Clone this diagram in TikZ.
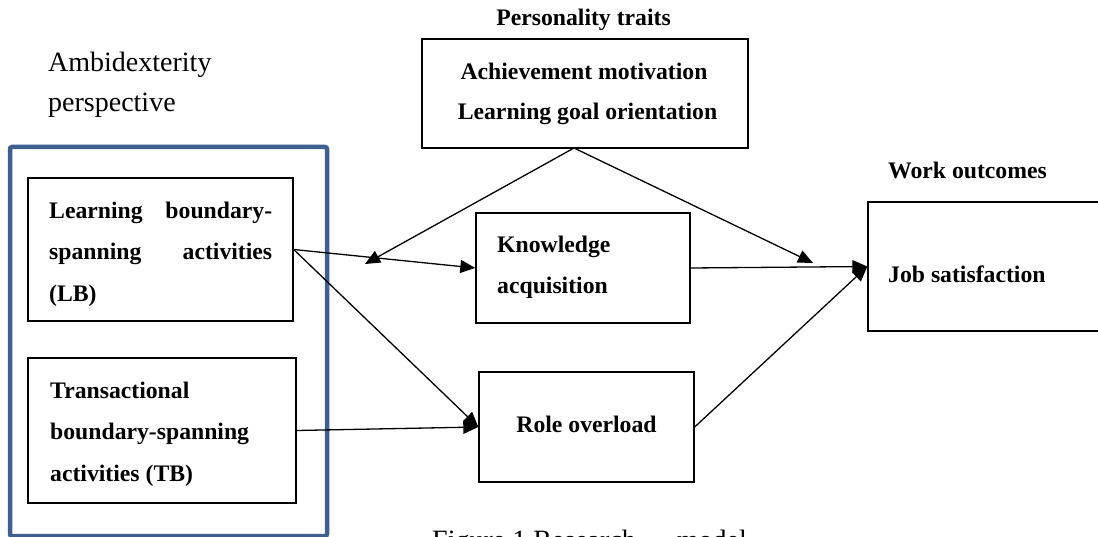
\documentclass[tikz,border=0pt]{standalone}
\usepackage{fontspec}
\setmainfont{Liberation Serif}
\usetikzlibrary{arrows.meta}
\definecolor{ambblue}{RGB}{62,96,145}
\tikzset{
  box/.style={draw, line width=1.4pt, inner sep=0pt},
  frame/.style={draw=ambblue, line width=4.5pt, rounded corners=2pt, inner sep=0pt},
  btext/.style={font=\fontsize{23.7}{41}\selectfont\bfseries, inner sep=0pt, anchor=base west},
  btextc/.style={btext, anchor=base},
  rtext/.style={font=\fontsize{28}{40}\selectfont, inner sep=0pt, anchor=base west},
  link/.style={line width=1.3pt, -{Triangle[length=15pt,width=13pt]}},
}
\begin{document}
\begin{tikzpicture}[x=1pt,y=-1pt]
\useasboundingbox (0,0) rectangle (1098,537);
% group frame
\node[frame, minimum width=317, minimum height=389] (amb) at (168.5,341.5) {};
% boxes
\node[box, minimum width=265, minimum height=143] (LB) at (160.5,249.5) {};
\node[box, minimum width=268, minimum height=145] (TB) at (162,430.5) {};
\node[box, minimum width=326, minimum height=109] (PT) at (585,93.5) {};
\node[box, minimum width=214, minimum height=110] (KA) at (583,268) {};
\node[box, minimum width=215, minimum height=110] (RO) at (586.5,427) {};
\node[box, minimum width=244, minimum height=129] (JS) at (990,266.5) {};
% texts
\node[rtext] (amb1) at (48,72) {Ambidexterity};
\node[rtext] (amb2) at (48,112) {perspective};
\node[btextc] (ptt) at (583.5,26) {Personality traits};
\node[btextc] (pt1) at (584,80) {Achievement motivation};
\node[btextc] (pt2) at (587.5,120) {Learning goal orientation};
\node[btext] (lb1) at (49,219) {\makebox[223pt][s]{Learning boundary-}};
\node[btext] (lb2) at (49,260) {\makebox[223pt][s]{spanning activities}};
\node[btext] (lb3) at (49,302) {(LB)};
\node[btext] (tb1) at (50,398) {Transactional};
\node[btext] (tb2) at (50,439) {boundary-spanning};
\node[btext] (tb3) at (50,481) {activities (TB)};
\node[btext] (ka1) at (497,253) {Knowledge};
\node[btext] (ka2) at (497,294) {acquisition};
\node[btextc] (ro1) at (586.5,432) {Role overload};
\node[btext] (wo) at (888,179) {Work outcomes};
\node[btext] (js1) at (888,283) {Job satisfaction};
\node[rtext] (cap) at (432,549.5) {Figure 1 Research\hspace{41pt}model};
% connectors
\coordinate (apex) at (574,148);
\coordinate (m1) at (365,264);
\coordinate (m2) at (813,263);
\draw[link] (LB.east) -- (KA.west);
\draw[link] (LB.east) -- (RO.west);
\draw[link] (TB.east) -- (RO.west);
\draw[link] (KA.east) -- (JS.west);
\draw[link] (RO.east) -- (JS.west);
\draw[link] (apex) -- (m1);
\draw[link] (apex) -- (m2);
\end{tikzpicture}
\end{document}
